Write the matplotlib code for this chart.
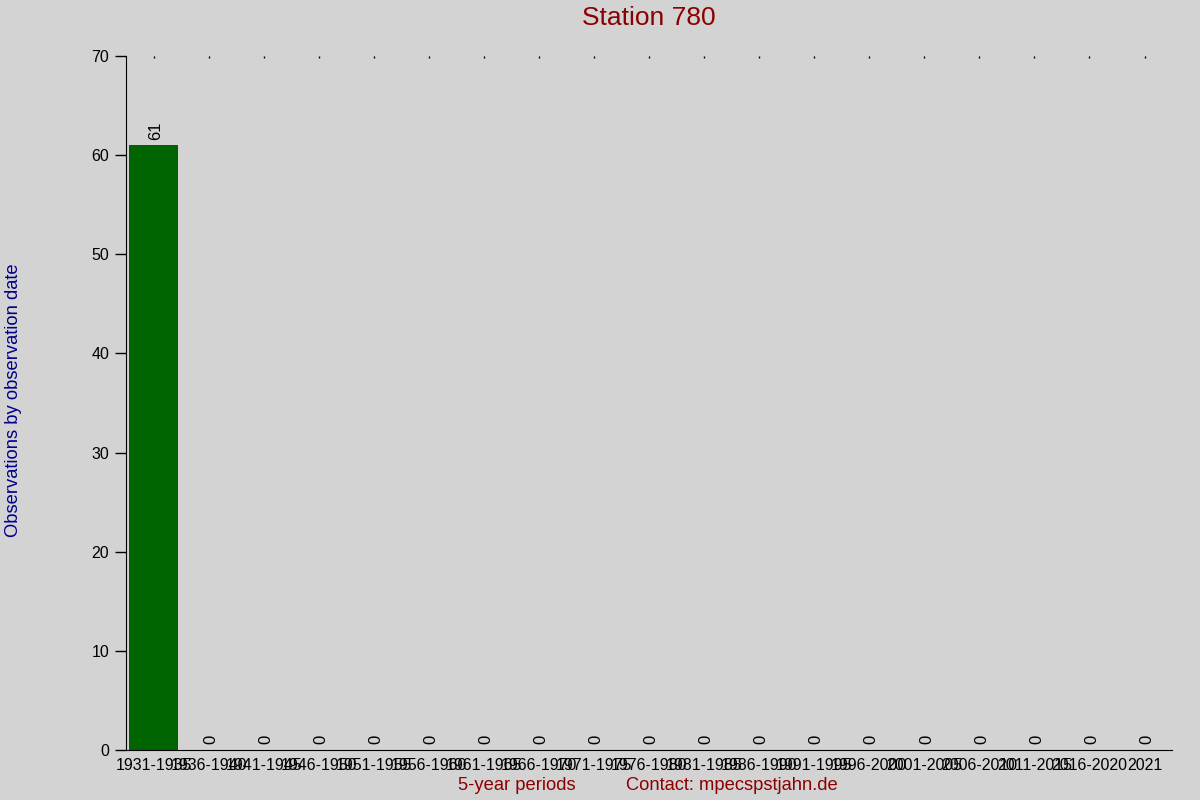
import numpy as np
import matplotlib.pyplot as plt

plt.rcParams['font.family'] = ['Liberation Sans', 'DejaVu Sans']

# data
periods = ['1931-1935', '1936-1940', '1941-1945', '1946-1950', '1951-1955',
           '1956-1960', '1961-1965', '1966-1970', '1971-1975', '1976-1980',
           '1981-1985', '1986-1990', '1991-1995', '1996-2000', '2001-2005',
           '2006-2010', '2011-2015', '2016-2020', '2021']
counts = [61, 0, 0, 0, 0, 0, 0, 0, 0, 0, 0, 0, 0, 0, 0, 0, 0, 0, 0]

bg = '#d3d3d3'
fig = plt.figure(figsize=(12, 8), dpi=100, facecolor=bg)
ax = fig.add_axes([0.105, 0.0625, 0.8717, 0.8675], facecolor=bg)

x = np.arange(len(periods))
bars = ax.bar(x, counts, width=0.9, color='#006400')
labels = ax.bar_label(bars, labels=[str(c) for c in counts], rotation=90,
                      padding=4, fontsize=12, color='black')
# nudge the labels a bit right, like the reference
for t in labels:
    t.xyann = (1.5, 4)

ax.set_xlim(-0.5, len(periods) - 0.5)
ax.set_ylim(0, 70)
ax.set_yticks(np.arange(0, 71, 10))
ax.set_xticks(x)
ax.set_xticklabels(periods, fontsize=11.5)
ax.tick_params(axis='y', labelsize=11.5, length=8, width=1, pad=4)
ax.tick_params(axis='x', length=0, pad=6)
ax.tick_params(axis='x', which='major', top=True, direction='in', length=1.2, width=1)
ax.tick_params(axis='x', bottom=False)

for side in ['top', 'right']:
    ax.spines[side].set_visible(False)
ax.spines['left'].set_bounds(0, 70)

fig.text(0.541, 0.977, 'Station 780', ha='center', va='center',
         fontsize=19, color='#8b0000')
fig.text(0.011, 0.5, 'Observations by observation date', rotation=90,
         ha='center', va='center', fontsize=13.2, color='#00008b')
fig.text(0.431, 0.018, '5-year periods', ha='center', va='center',
         fontsize=13.2, color='#8b0000')
fig.text(0.61, 0.018, 'Contact: mpecspstjahn.de', ha='center', va='center',
         fontsize=13.2, color='#8b0000')

fig.savefig('out.png', dpi=100, facecolor=bg)
